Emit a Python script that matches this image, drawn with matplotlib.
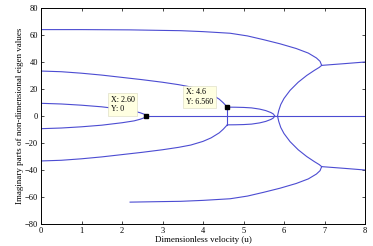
import numpy as np
import matplotlib.pyplot as plt

plt.rcParams['font.family'] = ['Liberation Serif', 'DejaVu Serif']

# branches of the imaginary parts (upper half; lower half is mirrored)
u_top = [0.0, 1.0, 2.2, 3.0, 3.45, 4.0, 4.67, 5.1, 5.5, 5.9, 6.3, 6.6, 6.8, 6.89, 6.93]
im_top = [64.0, 64.0, 63.8, 63.4, 63.2, 62.5, 61.3, 59.3, 56.5, 53.5, 50.0, 46.6, 43.0, 40.5, 37.5]

# lower 64 branch, only visible from u = 2.2 in the picture
u_bot = [2.2, 3.0, 3.45, 4.0, 4.67, 5.1, 5.5, 5.9, 6.3, 6.6, 6.8, 6.89, 6.93]
im_bot = [-63.8, -63.4, -63.2, -62.5, -61.3, -59.3, -56.5, -53.5, -50.0, -46.6, -43.0, -40.5, -37.5]

u_c2 = [0.0, 0.5, 1.0, 1.5, 2.0, 2.5, 3.0, 3.4, 3.7, 4.0, 4.2, 4.4, 4.5, 4.6]
im_c2 = [33.3, 32.8, 31.7, 30.3, 28.6, 26.9, 25.0, 23.2, 21.5, 18.8, 16.2, 12.5, 9.8, 6.56]

u_c3 = [0.0, 0.5, 1.0, 1.5, 2.0, 2.3, 2.45, 2.55, 2.6]
im_c3 = [9.4, 8.9, 8.0, 6.8, 5.0, 3.6, 2.4, 1.3, 0.0]

u_zero = [2.6, 8.0]
im_zero = [0.0, 0.0]

u_loop = [4.6, 4.8, 5.0, 5.2, 5.4, 5.55, 5.68, 5.74, 5.77]
im_loop = [6.56, 6.5, 6.35, 6.0, 5.1, 4.0, 2.5, 1.4, 0.0]

u_out = [5.84, 5.87, 5.92, 6.0, 6.15, 6.35, 6.56, 6.75, 6.87, 6.93]
im_out = [0.0, 4.0, 8.5, 13.0, 19.0, 25.0, 30.0, 33.8, 36.0, 37.5]

u_tail = [6.93, 7.5, 8.0]
im_tail = [37.5, 38.8, 40.0]

tip1 = (2.6, 0.0)
tip2 = (4.6, 6.56)

blue = '#4c4cd2'
lw = 0.8

fig = plt.figure(figsize=(3.73, 2.46), dpi=100)
ax = fig.add_axes([41 / 373, 22 / 246, 324 / 373, 216 / 246])

def both(u, v):
    u = np.asarray(u)
    v = np.asarray(v)
    ax.plot(u, v, color=blue, lw=lw)
    ax.plot(u, -v, color=blue, lw=lw)

ax.plot(u_top, im_top, color=blue, lw=lw)
ax.plot(u_bot, im_bot, color=blue, lw=lw)
both(u_c2, im_c2)
both(u_c3, im_c3)
both(u_loop, im_loop)
both(u_out, im_out)
both(u_tail, im_tail)
ax.plot(u_zero, im_zero, color=blue, lw=lw)
ax.plot([tip2[0], tip2[0]], [tip2[1], -tip2[1]], color=blue, lw=lw)

# data tips
for (x, y) in (tip1, tip2):
    ax.plot(x, y, 's', color='black', ms=3.5, zorder=5)
box = dict(boxstyle='square,pad=0.35', fc='#ffffe1', ec='#d8d8c0', lw=0.4)
ax.text(1.72, 15.0, 'X: 2.60\nY: 0', fontsize=5.8, ha='left', va='top',
        linespacing=1.2, zorder=6, bbox=box)
ax.text(3.58, 20.5, 'X: 4.6\nY: 6.560', fontsize=5.8, ha='left', va='top',
        linespacing=1.2, zorder=6, bbox=box)

ax.set_xlim(0, 8)
ax.set_ylim(-80, 80)
ax.set_xticks(range(0, 9))
ax.set_yticks(range(-80, 81, 20))
ax.tick_params(direction='in', top=True, right=True, labelsize=6,
               length=2.5, width=0.5, pad=2)
for s in ax.spines.values():
    s.set_linewidth(0.7)

ax.set_xlabel('Dimensionless velocity (u)', fontsize=6.5, labelpad=1)
ax.set_ylabel('Imaginary parts of non-dimensional eigen values', fontsize=6.5,
              labelpad=1)

fig.savefig('out.png', dpi=100)
